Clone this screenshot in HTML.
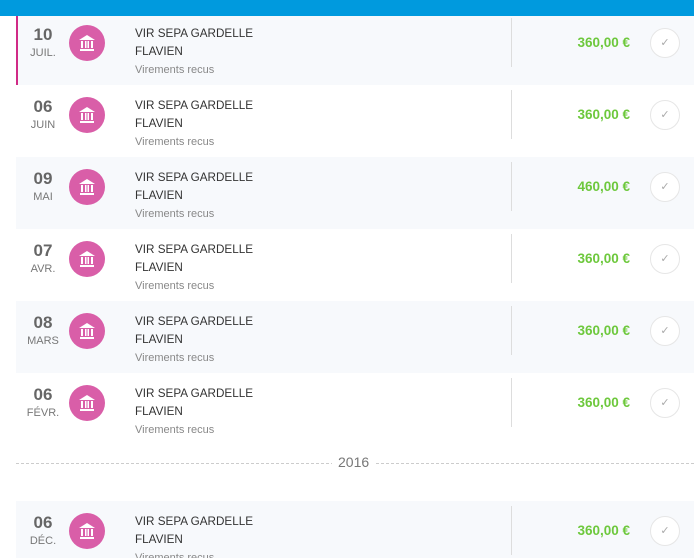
<!DOCTYPE html>
<html><head><meta charset="utf-8"><style>
html,body{margin:0;width:694px;height:558px;overflow:hidden}
body{background:#fff;font-family:"Liberation Sans",sans-serif;position:relative}
.top{position:absolute;left:0;top:0;width:694px;height:16px;background:#009ade;z-index:5}
.row{position:absolute;left:16px;width:678px;height:72px}
.l{background:#f7f9fc}
.bar{position:absolute;left:0;top:0;width:2px;height:72px;background:#d02a86}
.d{position:absolute;left:0;width:54px;text-align:center;top:12px;color:#666;font-weight:bold;font-size:17px}
.m{position:absolute;left:0;width:54px;text-align:center;top:34px;color:#777;font-size:11px}
.ic{position:absolute;left:53px;top:12px;width:36px;height:36px;border-radius:50%;background:#d95ea8}
.ic svg{position:absolute;left:9px;top:9px}
.t{position:absolute;left:119px;top:12px;font-size:11.7px;color:#333;line-height:18px}
.s{position:absolute;left:119px;top:51px;font-size:11px;color:#888}
.v{position:absolute;left:495px;top:5px;width:1px;height:49px;background:#ddd}
.a{position:absolute;right:64px;top:22px;font-size:13.5px;font-weight:bold;color:#6dc83c}
.c{position:absolute;left:634px;top:15px;width:28px;height:28px;border:1px solid #e6e6e6;border-radius:50%;background:#fff;color:#aaa;font-size:11px;text-align:center;line-height:28px}
.sep{position:absolute;left:16px;right:0;top:463px;border-top:1px dashed #ccc}
.yr{position:absolute;left:332px;top:454px;background:#fff;padding:0 6px;color:#777;font-size:14px}
</style></head><body>
<div class="top"></div>
<div class="row l" style="top:13px"><div class="bar"></div><div class="d">10</div><div class="m">JUIL.</div><div class="ic"><svg width="18" height="18" viewBox="0 0 18 18"><path d="M1 6L9 1L17 6Z M2 15H16V17H2Z M3 7h2v7H3Z M7 7h1.5v7H7Z M9.5 7H11v7H9.5Z M13 7h2v7h-2Z" fill="#fff"/></svg></div><div class="t">VIR SEPA GARDELLE<br>FLAVIEN</div><div class="s">Virements recus</div><div class="v"></div><div class="a">360,00 €</div><div class="c">✓</div></div>
<div class="row" style="top:85px"><div class="d">06</div><div class="m">JUIN</div><div class="ic"><svg width="18" height="18" viewBox="0 0 18 18"><path d="M1 6L9 1L17 6Z M2 15H16V17H2Z M3 7h2v7H3Z M7 7h1.5v7H7Z M9.5 7H11v7H9.5Z M13 7h2v7h-2Z" fill="#fff"/></svg></div><div class="t">VIR SEPA GARDELLE<br>FLAVIEN</div><div class="s">Virements recus</div><div class="v"></div><div class="a">360,00 €</div><div class="c">✓</div></div>
<div class="row l" style="top:157px"><div class="d">09</div><div class="m">MAI</div><div class="ic"><svg width="18" height="18" viewBox="0 0 18 18"><path d="M1 6L9 1L17 6Z M2 15H16V17H2Z M3 7h2v7H3Z M7 7h1.5v7H7Z M9.5 7H11v7H9.5Z M13 7h2v7h-2Z" fill="#fff"/></svg></div><div class="t">VIR SEPA GARDELLE<br>FLAVIEN</div><div class="s">Virements recus</div><div class="v"></div><div class="a">460,00 €</div><div class="c">✓</div></div>
<div class="row" style="top:229px"><div class="d">07</div><div class="m">AVR.</div><div class="ic"><svg width="18" height="18" viewBox="0 0 18 18"><path d="M1 6L9 1L17 6Z M2 15H16V17H2Z M3 7h2v7H3Z M7 7h1.5v7H7Z M9.5 7H11v7H9.5Z M13 7h2v7h-2Z" fill="#fff"/></svg></div><div class="t">VIR SEPA GARDELLE<br>FLAVIEN</div><div class="s">Virements recus</div><div class="v"></div><div class="a">360,00 €</div><div class="c">✓</div></div>
<div class="row l" style="top:301px"><div class="d">08</div><div class="m">MARS</div><div class="ic"><svg width="18" height="18" viewBox="0 0 18 18"><path d="M1 6L9 1L17 6Z M2 15H16V17H2Z M3 7h2v7H3Z M7 7h1.5v7H7Z M9.5 7H11v7H9.5Z M13 7h2v7h-2Z" fill="#fff"/></svg></div><div class="t">VIR SEPA GARDELLE<br>FLAVIEN</div><div class="s">Virements recus</div><div class="v"></div><div class="a">360,00 €</div><div class="c">✓</div></div>
<div class="row" style="top:373px"><div class="d">06</div><div class="m">FÉVR.</div><div class="ic"><svg width="18" height="18" viewBox="0 0 18 18"><path d="M1 6L9 1L17 6Z M2 15H16V17H2Z M3 7h2v7H3Z M7 7h1.5v7H7Z M9.5 7H11v7H9.5Z M13 7h2v7h-2Z" fill="#fff"/></svg></div><div class="t">VIR SEPA GARDELLE<br>FLAVIEN</div><div class="s">Virements recus</div><div class="v"></div><div class="a">360,00 €</div><div class="c">✓</div></div>
<div class="sep"></div><div class="yr">2016</div>
<div class="row l" style="top:501px"><div class="d">06</div><div class="m">DÉC.</div><div class="ic"><svg width="18" height="18" viewBox="0 0 18 18"><path d="M1 6L9 1L17 6Z M2 15H16V17H2Z M3 7h2v7H3Z M7 7h1.5v7H7Z M9.5 7H11v7H9.5Z M13 7h2v7h-2Z" fill="#fff"/></svg></div><div class="t">VIR SEPA GARDELLE<br>FLAVIEN</div><div class="s">Virements recus</div><div class="v"></div><div class="a">360,00 €</div><div class="c">✓</div></div>
</body></html>
